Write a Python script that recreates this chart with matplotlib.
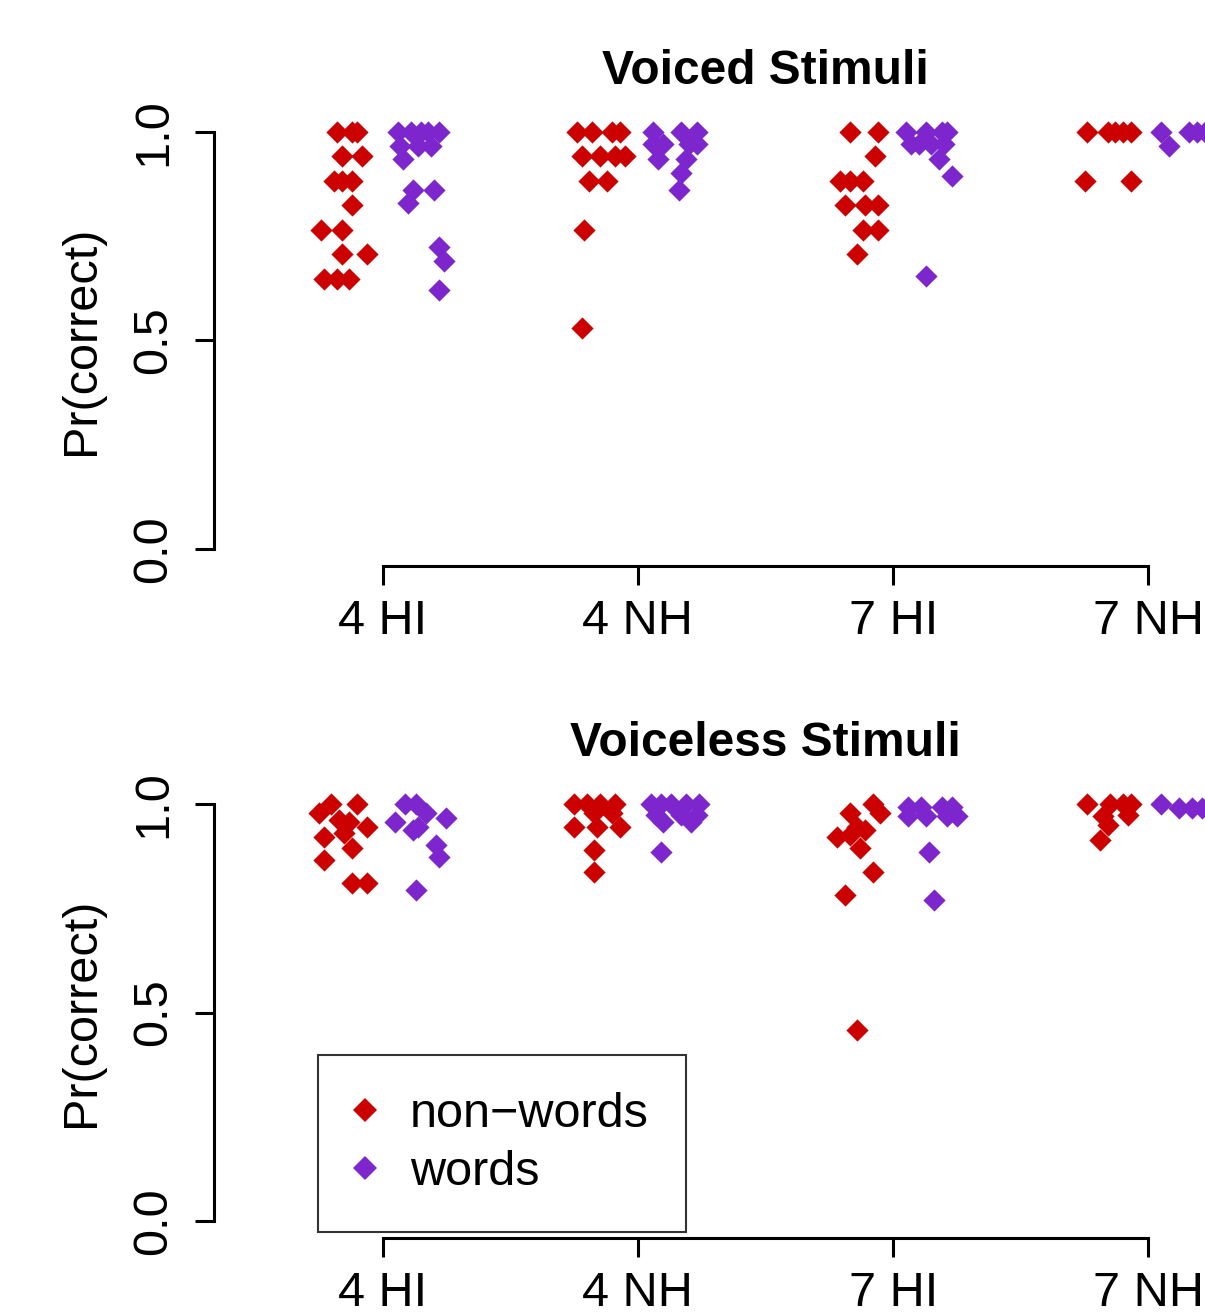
import numpy as np
import matplotlib
matplotlib.use('Agg')
import matplotlib.pyplot as plt
from matplotlib.lines import Line2D

plt.rcParams['font.family'] = ['Liberation Sans', 'DejaVu Sans']

# --- Data ---
groups = ['4 HI', '4 NH', '7 HI', '7 NH']

# voiced stimuli, non-words
voiced_nw_grp = [1]*16 + [2]*12 + [3]*12 + [4]*7
voiced_nw_val = [1, 1, 1, .941, .941, .882, .882, .882, .824, .765, .765, .706, .706, .647, .647, .647,
                 1, 1, 1, 1, .941, .941, .941, .941, .882, .882, .765, .529,
                 1, 1, .941, .882, .882, .882, .824, .824, .824, .765, .765, .706,
                 1, 1, 1, 1, 1, .882, .882]
voiced_nw_jit = [-.18, -.12, -.10, -.16, -.08, -.19, -.16, -.12, -.12, -.24, -.16, -.16, -.06, -.23, -.18, -.13,
                 -.24, -.18, -.10, -.07, -.22, -.15, -.09, -.05, -.19, -.12, -.21, -.22,
                 -.17, -.06, -.07, -.21, -.17, -.12, -.19, -.11, -.06, -.12, -.06, -.14,
                 -.24, -.16, -.13, -.10, -.07, -.25, -.07]

# voiced stimuli, words
voiced_w_grp = [1]*15 + [2]*11 + [3]*11 + [4]*6
voiced_w_val = [1, 1, 1, 1, 1, .965, .965, .965, .935, .86, .86, .83, .725, .69, .62,
                1, 1, 1, .97, .97, .97, .97, .935, .935, .90, .86,
                1, 1, 1, 1, .97, .97, .97, .97, .935, .895, .655,
                1, 1, 1, 1, 1, .965]
voiced_w_jit = [.06, .11, .15, .18, .22, .07, .14, .19, .08, .12, .20, .10, .22, .24, .22,
                .06, .17, .23, .06, .10, .20, .23, .08, .19, .17, .16,
                .05, .13, .19, .21, .07, .10, .15, .20, .18, .23, .13,
                .05, .16, .19, .22, .26, .08]

# voiceless stimuli, non-words
voiceless_nw_grp = [1]*12 + [2]*11 + [3]*11 + [4]*8
voiceless_nw_val = [.978, 1, 1, .955, .945, .96, .894, .93, .921, .866, .81, .81,
                    1, 1, 1, 1, .978, .978, .945, .945, .945, .89, .837,
                    1, .978, .978, .945, .92, .925, .937, .894, .837, .782, .458,
                    1, 1, 1, 1, .974, .97, .95, .914]
voiceless_nw_jit = [-.25, -.20, -.10, -.13, -.06, -.17, -.12, -.15, -.23, -.23, -.12, -.06,
                    -.25, -.20, -.15, -.09, -.17, -.10, -.25, -.16, -.07, -.17, -.17,
                    -.08, -.05, -.17, -.14, -.22, -.17, -.11, -.13, -.08, -.19, -.14,
                    -.24, -.15, -.10, -.07, -.08, -.18, -.16, -.19]

# voiceless stimuli, words
voiceless_w_grp = [1]*10 + [2]*11 + [3]*10 + [4]*5
voiceless_w_val = [1, 1, .978, .966, .955, .938, .945, .90, .873, .794,
                   1, 1, 1, 1, 1, .974, .974, .974, .955, .955, .885,
                   .993, .993, .993, .993, .97, .97, .97, .97, .885, .77,
                   1, .99, .99, .99, .99]
voiceless_w_jit = [.09, .13, .17, .25, .05, .12, .14, .21, .22, .13,
                   .05, .09, .13, .19, .24, .07, .17, .23, .10, .21, .09,
                   .06, .11, .19, .23, .06, .13, .21, .25, .14, .16,
                   .05, .12, .17, .21, .26]

red = '#CD0000'
purple = '#7D26CD'

W, H = 1205, 1314
fig = plt.figure(figsize=(W / 100, H / 100), dpi=100)

# plot regions in pixels (left, top, right, bottom); right side runs off the canvas
panels = [
    ('Voiced Stimuli', voiced_nw_grp, voiced_nw_val, voiced_nw_jit,
     voiced_w_grp, voiced_w_val, voiced_w_jit, (214, 115, 1317, 566)),
    ('Voiceless Stimuli', voiceless_nw_grp, voiceless_nw_val, voiceless_nw_jit,
     voiceless_w_grp, voiceless_w_val, voiceless_w_jit, (214, 787, 1317, 1238)),
]

lw = 2.2
fs = 35
axes = []
for title, ng, nv, nj, wg, wv, wj, (l, t, r, b) in panels:
    ax = fig.add_axes([l / W, 1 - b / H, (r - l) / W, (b - t) / H])
    axes.append(ax)
    ax.scatter(np.array(ng) + np.array(nj), nv, marker='D', s=128, color=red, linewidths=0, zorder=3)
    ax.scatter(np.array(wg) + np.array(wj), wv, marker='D', s=128, color=purple, linewidths=0, zorder=3)

    ax.set_xlim(0.34, 4.66)
    ax.set_ylim(-0.04, 1.04)
    for s in ['top', 'right']:
        ax.spines[s].set_visible(False)
    ax.spines['left'].set_bounds(0, 1)
    ax.spines['bottom'].set_bounds(1, 4)
    ax.spines['left'].set_linewidth(lw)
    ax.spines['bottom'].set_linewidth(lw)
    ax.spines['bottom'].set_capstyle('projecting')
    ax.spines['left'].set_capstyle('projecting')

    ax.set_xticks([1, 2, 3, 4])
    ax.set_xticklabels(groups)
    ax.set_yticks([0, 0.5, 1.0])
    ax.set_yticklabels(['0.0', '0.5', '1.0'])
    ax.tick_params(axis='both', width=lw, length=14, labelsize=fs, direction='out')
    ax.tick_params(axis='x', pad=10)
    ax.tick_params(axis='y', pad=13, labelrotation=90)
    for lab in ax.get_yticklabels():
        lab.set_va('center')

    ax.set_title(title, fontsize=34.5, fontweight='bold', pad=22)
    ax.set_ylabel('Pr(correct)', fontsize=fs)
    ax.yaxis.set_label_coords(-(214 - 104) / (r - l), 0.5)

handles = [
    Line2D([], [], marker='D', linestyle='none', color=red, markersize=12, markeredgewidth=0),
    Line2D([], [], marker='D', linestyle='none', color=purple, markersize=12, markeredgewidth=0),
]
leg = axes[1].legend(handles, ['non\u2212words', 'words'], loc='upper left',
                     bbox_to_anchor=(318 / W, 1 - 1055 / H), bbox_transform=fig.transFigure,
                     borderaxespad=0, fontsize=fs, fancybox=False, frameon=True,
                     borderpad=0.76, labelspacing=0.27, handlelength=0.41, handletextpad=0.72)
leg.get_frame().set_edgecolor('black')
leg.get_frame().set_linewidth(1.5)

fig.savefig('out.png', dpi=100)
